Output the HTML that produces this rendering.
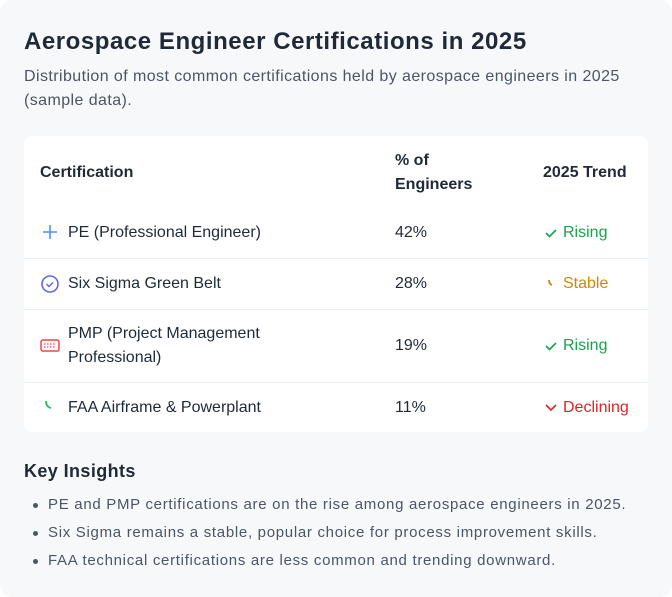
<!DOCTYPE html>
<html><head><style>
*{margin:0;padding:0;box-sizing:border-box}
body{width:672px;height:597px;background:#fff;font-family:"Liberation Sans",sans-serif;overflow:hidden}
.card{position:absolute;left:0;top:0;width:672px;height:597px;background:#f7f8fa;border-radius:12px}
.t{position:absolute;white-space:nowrap}
h1{position:absolute;left:24px;top:28px;font-size:24px;font-weight:bold;color:#1f2937;letter-spacing:0.55px}
.sub{left:24px;font-size:16px;color:#4b5563;letter-spacing:0.42px}
.tbl{position:absolute;left:24px;top:136px;width:624px;height:296px;background:#fff;border-radius:8px}
.hd{font-weight:bold;font-size:16px;color:#1f2937}
.c{font-size:16px;color:#1f2937}
.line{position:absolute;left:24px;width:624px;height:1px;background:#eceff3}
ul{position:absolute;left:24px;top:491px;list-style:none}
li{font-size:15px;color:#4b5563;height:28px;line-height:28px;position:relative;padding-left:24px;letter-spacing:0.7px}
li:before{content:"";position:absolute;left:9px;top:12px;width:5px;height:5px;border-radius:50%;background:#4b5563}
</style></head><body>
<div class="card"></div>
<h1>Aerospace Engineer Certifications in 2025</h1>
<div class="t sub" style="top:68px">Distribution of most common certifications held by aerospace engineers in 2025</div>
<div class="t sub" style="top:92px">(sample data).</div>
<div class="tbl"></div>
<div class="t hd" style="left:40px;top:164px">Certification</div>
<div class="t hd" style="left:395px;top:152px">% of</div>
<div class="t hd" style="left:395px;top:176px">Engineers</div>
<div class="t hd" style="left:543px;top:164px">2025 Trend</div>
<div class="line" style="top:258px"></div>
<div class="line" style="top:309px"></div>
<div class="line" style="top:382px"></div>
<svg class="t" style="left:41px;top:223px" width="18" height="18"><path d="M9 2v14M2 9h14" stroke="#4f8ef7" stroke-width="1.6"/></svg>
<div class="t c" style="left:68px;top:224px">PE (Professional Engineer)</div>
<svg class="t" style="left:40px;top:274px" width="20" height="20"><circle cx="10" cy="10" r="8" fill="none" stroke="#6366f1" stroke-width="1.6"/><path d="M6.5 10l2.5 2.5 4-4" fill="none" stroke="#6366f1" stroke-width="1.5"/></svg>
<div class="t c" style="left:68px;top:275px">Six Sigma Green Belt</div>
<svg class="t" style="left:40px;top:339px" width="20" height="14"><rect x="1" y="1" width="18" height="11" rx="2" fill="none" stroke="#ef4444" stroke-width="1.5"/><path d="M4 5h12M4 8h12" stroke="#ef4444" stroke-width="1.2" stroke-dasharray="1.5 1.5"/></svg>
<div class="t c" style="left:68px;top:325px">PMP (Project Management</div>
<div class="t c" style="left:68px;top:349px">Professional)</div>
<svg class="t" style="left:44px;top:400px" width="12" height="12"><path d="M2 1q0 6 5 7" fill="none" stroke="#22c55e" stroke-width="1.8"/></svg>
<div class="t c" style="left:68px;top:399px">FAA Airframe &amp; Powerplant</div>
<div class="t c" style="left:395px;top:224px">42%</div>
<div class="t c" style="left:395px;top:275px">28%</div>
<div class="t c" style="left:395px;top:337px">19%</div>
<div class="t c" style="left:395px;top:399px">11%</div>
<svg class="t" style="left:544px;top:227px" width="14" height="12"><path d="M2 6l3.5 3.5L12 3" fill="none" stroke="#16a34a" stroke-width="1.6"/></svg>
<div class="t c" style="left:563px;top:224px;color:#16a34a">Rising</div>
<svg class="t" style="left:547px;top:278px" width="8" height="10"><path d="M2 2q0 4 3 5" fill="none" stroke="#ca8a04" stroke-width="1.8"/></svg>
<div class="t c" style="left:563px;top:275px;color:#ca8a04">Stable</div>
<svg class="t" style="left:544px;top:340px" width="14" height="12"><path d="M2 6l3.5 3.5L12 3" fill="none" stroke="#16a34a" stroke-width="1.6"/></svg>
<div class="t c" style="left:563px;top:337px;color:#16a34a">Rising</div>
<svg class="t" style="left:544px;top:402px" width="14" height="10"><path d="M2 3l5 5 5-5" fill="none" stroke="#dc2626" stroke-width="1.6"/></svg>
<div class="t c" style="left:563px;top:399px;color:#dc2626">Declining</div>
<div class="t" style="left:24px;top:461px;font-size:18px;font-weight:bold;color:#1f2937;letter-spacing:0.4px">Key Insights</div>
<ul>
<li>PE and PMP certifications are on the rise among aerospace engineers in 2025.</li>
<li>Six Sigma remains a stable, popular choice for process improvement skills.</li>
<li>FAA technical certifications are less common and trending downward.</li>
</ul>
</body></html>
